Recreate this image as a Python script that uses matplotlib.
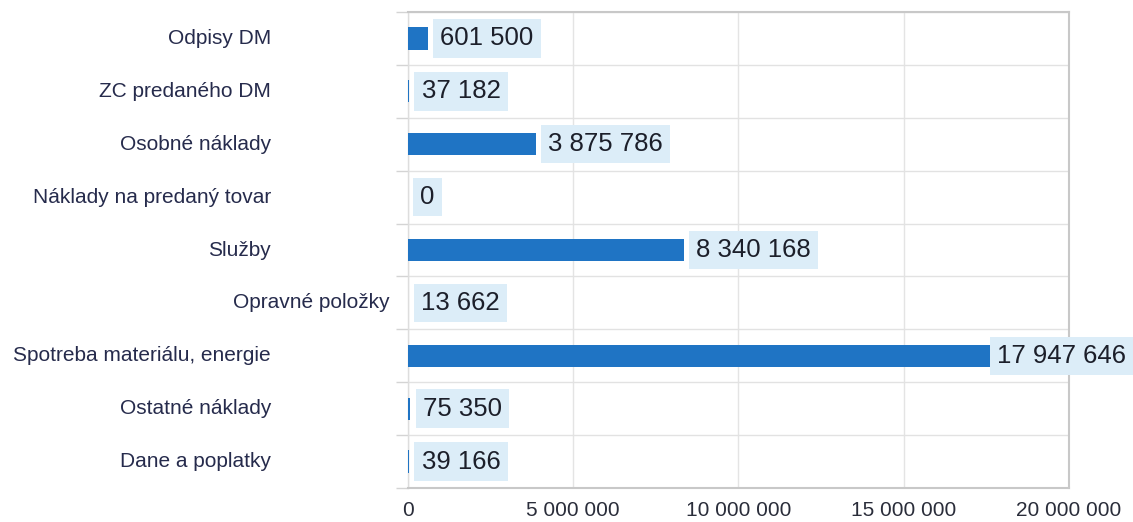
#!/usr/bin/env python3
"""Horizontal bar chart of cost categories with boxed value labels."""

import matplotlib

matplotlib.use("Agg")
import matplotlib.pyplot as plt
import matplotlib.transforms as mtransforms
import numpy as np

categories = [
    "Odpisy DM",
    "ZC predaného DM",
    "Osobné náklady",
    "Náklady na predaný tovar",
    "Služby",
    "Opravné položky",
    "Spotreba materiálu, energie",
    "Ostatné náklady",
    "Dane a poplatky",
]
values = [601500, 37182, 3875786, 0, 8340168, 13662, 17947646, 75350, 39166]
value_labels = ["601 500", "37 182", "3 875 786", "0", "8 340 168", "13 662", "17 947 646", "75 350", "39 166"]
xticks = [0, 5000000, 10000000, 15000000, 20000000]
xtick_labels = ["0", "5 000 000", "10 000 000", "15 000 000", "20 000 000"]

BAR = "#1f74c4"
LABEL_BG = "#dcedf8"
TEXT = "#262b4c"


def main() -> None:
    plt.rcParams["font.family"] = ["Liberation Sans", "DejaVu Sans"]
    fig = plt.figure(figsize=(11.33, 5.22), dpi=100)
    ax = fig.add_axes([0.360, 1 - 488 / 522, 0.9435 - 0.360, (488 - 12) / 522])

    y = np.arange(len(categories))
    ax.barh(y, values, height=0.42, color=BAR, zorder=3)
    ax.set_ylim(len(categories) - 0.5, -0.5)
    ax.set_xlim(0, 20000000)

    # value labels in light blue boxes; the longest one overlaps its bar end
    for yi, v, lab in zip(y, values, value_labels):
        dx = -3 if v > 15000000 else 9
        ax.annotate(
            lab, (v, yi), xytext=(dx, 0), textcoords="offset points",
            ha="left", va="center", fontsize=18.5, color="#1c1f2a", zorder=5,
            bbox=dict(boxstyle="square,pad=0.28", facecolor=LABEL_BG, edgecolor="none"),
        )

    # category labels (drawn by hand, one sits closer to the axis)
    ax.set_yticks(y)
    ax.set_yticklabels([])
    ax.tick_params(axis="y", which="major", length=0)
    trans = mtransforms.blended_transform_factory(ax.transAxes, ax.transData)
    for yi, name in zip(y, categories):
        off = -0.028 if name == "Opravné položky" else -0.207
        ax.text(off, yi, name, transform=trans, ha="right", va="center", fontsize=15, color=TEXT)

    # category separators, sticking out a bit to the left
    ax.set_yticks(np.arange(-0.5, len(categories), 1.0), minor=True)
    ax.tick_params(axis="y", which="minor", length=9, color="#d4d4d4", width=1)
    ax.grid(axis="y", which="minor", color="#e2e2e2", linewidth=1, zorder=0)

    ax.set_xticks(xticks)
    ax.set_xticklabels(xtick_labels, fontsize=15, color="#2a2d3a")
    ax.tick_params(axis="x", length=0, pad=9)
    ax.grid(axis="x", which="major", color="#e4e4e4", linewidth=1, zorder=0)

    for side in ["top", "right", "bottom"]:
        ax.spines[side].set_color("#c8c8c8")
        ax.spines[side].set_linewidth(1.5)
    ax.spines["left"].set_color("#dddddd")
    ax.spines["left"].set_linewidth(1)

    fig.savefig("out.png", dpi=100)


if __name__ == "__main__":
    main()
